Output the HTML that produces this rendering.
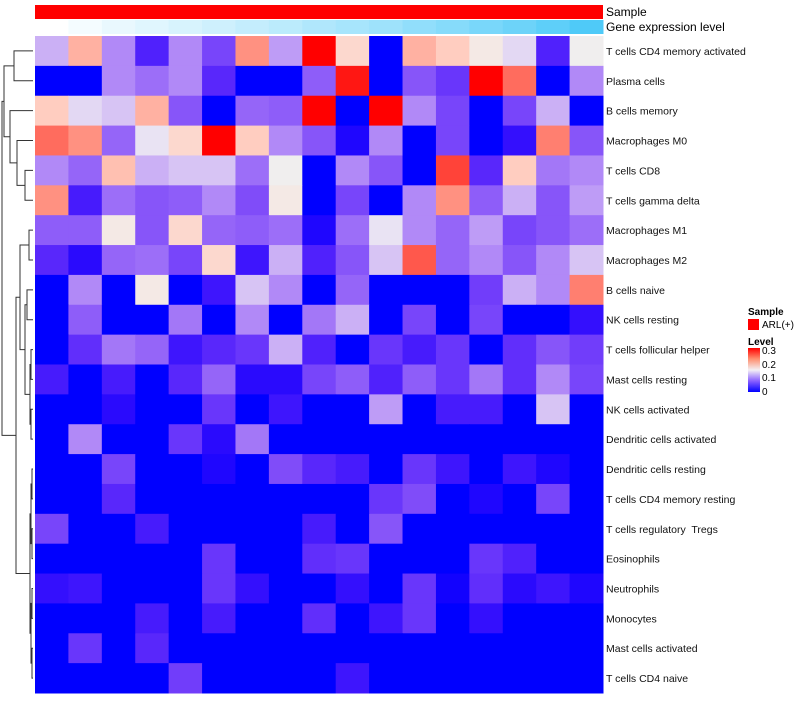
<!DOCTYPE html>
<html><head><meta charset="utf-8"><style>
body{margin:0;background:#fff;font-family:"Liberation Sans",sans-serif}
svg text{font-family:"Liberation Sans",sans-serif;white-space:pre}
</style></head><body>
<svg id="chart" width="800" height="700" viewBox="0 0 800 700">
<g id="dendro" stroke="#333" fill="none" stroke-width="1"></g>
<g id="anno"></g>
<g id="cells"></g>
<g id="labels"></g>
<g id="legend">
<text x="748" y="315" font-size="10" font-weight="bold">Sample</text>
<rect x="748" y="319" width="11" height="11" fill="#ff0000"/>
<text x="762" y="328" font-size="10">ARL(+)</text>
<text x="748" y="345" font-size="10" font-weight="bold">Level</text>
<defs><linearGradient id="lg" x1="0" y1="1" x2="0" y2="0"><stop offset="0" stop-color="#0000ff"/><stop offset="0.25" stop-color="#8a60ff"/><stop offset="0.5" stop-color="#f4f0f4"/><stop offset="0.75" stop-color="#ff9070"/><stop offset="1" stop-color="#ff0000"/></linearGradient></defs>
<rect x="748" y="348" width="12" height="44" fill="url(#lg)"/>
<text x="762" y="354" font-size="10">0.3</text>
<text x="762" y="368" font-size="10">0.2</text>
<text x="762" y="381" font-size="10">0.1</text>
<text x="762" y="395" font-size="10">0</text>
</g>
</svg>
<script>
const rowNames=["T cells CD4 memory activated","Plasma cells","B cells memory","Macrophages M0","T cells CD8","T cells gamma delta","Macrophages M1","Macrophages M2","B cells naive","NK cells resting","T cells follicular helper","Mast cells resting","NK cells activated","Dendritic cells activated","Dendritic cells resting","T cells CD4 memory resting","T cells regulatory  Tregs","Eosinophils","Neutrophils","Monocytes","Mast cells activated","T cells CD4 naive"];
const geneLevel=[0,0.06,0.12,0.17,0.22,0.27,0.32,0.37,0.43,0.48,0.53,0.6,0.66,0.73,0.8,0.88,0.96];
const r1=[.12,.21,.1,.035,.1,.06,.23,.11,.3,.18,0,.21,.19,.16,.14,.035,.15];
const r2=[0,0,.1,.085,.1,.04,0,0,.075,.29,0,.07,.05,.3,.25,0,.1];
const r3=[.19,.14,.13,.21,.07,0,.08,.075,.3,0,.3,.1,.06,0,.06,.12,0];
const r4=[.25,.23,.08,.145,.18,.3,.19,.1,.07,.01,.1,0,.06,0,.02,.24,.07];
const r5=[.1,.08,.2,.12,.13,.13,.085,.15,0,.1,.07,0,.27,.04,.19,.09,.1];
const r6=[.23,.03,.085,.07,.075,.1,.065,.16,0,.06,0,.1,.23,.075,.12,.07,.11];
const r7=[.075,.075,.16,.07,.18,.08,.075,.085,.01,.085,.145,.1,.08,.11,.06,.07,.085];
const r8=[.04,.015,.08,.085,.06,.18,.025,.12,.035,.07,.13,.26,.08,.1,.07,.1,.13];
const r9=[0,.1,0,.16,0,.025,.13,.1,0,.08,0,0,0,.055,.12,.1,.24];
const r10=[0,.075,0,0,.09,0,.1,0,.09,.12,0,.06,0,.06,0,0,.02];
const r11=[0,.045,.09,.08,.025,.04,.05,.12,.035,0,.05,.03,.05,0,.045,.07,.055];
const r12=[.03,0,.03,0,.04,.08,.015,.015,.06,.075,.035,.075,.05,.09,.045,.1,.06];
const r13=[0,0,.015,0,0,.05,0,.025,0,0,.11,0,.03,.03,0,.13,0];
const r14=[0,.1,0,0,.05,.015,.09,0,0,0,0,0,0,0,0,0,0];
const r15=[0,0,.06,0,0,.01,0,.065,.04,.03,0,.05,.025,0,.025,.01,0];
const r16=[0,0,.04,0,0,0,0,0,0,0,.05,.065,0,.01,0,.06,0];
const r17=[.06,0,0,.03,0,0,0,0,.03,0,.07,0,0,0,0,0,0];
const r18=[0,0,0,0,0,.05,0,0,.045,.05,0,0,0,.05,.035,0,0];
const r19=[.02,.025,0,0,0,.05,.02,0,0,.02,0,.05,.005,.045,.015,.025,.01];
const r20=[0,0,0,.03,0,.03,0,0,.045,0,.025,.05,0,.02,0,0,0];
const r21=[0,.05,0,.04,0,0,0,0,0,0,0,0,0,0,0,0,0];
const r22=[0,0,0,0,.055,0,0,0,0,.025,0,0,0,0,0,0,0];
const values=[r1,r2,r3,r4,r5,r6,r7,r8,r9,r10,r11,r12,r13,r14,r15,r16,r17,r18,r19,r20,r21,r22];
const NS="http://www.w3.org/2000/svg";
const X0=35,X1=603,Y0=36,Y1=693,nC=17,nR=22;
const cw=(X1-X0)/nC,rh=(Y1-Y0)/nR;
const xPos=c=>X0+c*cw, yPos=r=>Y0+r*rh;
function color(v){const t=Math.max(0,Math.min(1,v/0.3));let r,g,b;
 if(t<0.5){const u=t/0.5;r=240*Math.pow(u,0.75);g=238*Math.pow(u,1.35);b=255-12*u;}
 else{const u=(t-0.5)/0.5;r=240+15*Math.min(1,u*4);g=238*(1-Math.pow(u,1.5));b=238*(1-Math.pow(u,1.25));}
 return `rgb(${r|0},${g|0},${b|0})`;}
function mk(tag,attrs,parent){const e=document.createElementNS(NS,tag);for(const k in attrs)e.setAttribute(k,attrs[k]);parent.appendChild(e);return e;}
const cells=document.getElementById('cells');
values.forEach((row,r)=>row.forEach((v,c)=>{const e=mk('rect',{x:xPos(c),y:yPos(r),width:cw+0.5,height:rh+0.5,fill:color(v)},cells);

}));
const anno=document.getElementById('anno');
const s=mk('rect',{x:X0,y:5,width:X1-X0,height:14,fill:'#ff0000'},anno);


geneLevel.forEach((g,c)=>{const r=Math.round(255-(255-72)*g),gg=Math.round(255-(255-200)*g),b=Math.round(255-(255-248)*g);
const e=mk('rect',{x:xPos(c),y:20,width:cw+0.5,height:14,fill:`rgb(${r},${gg},${b})`},anno);

});
let t=mk('text',{x:606,y:16,'font-size':12,fill:'#000'},anno);t.textContent='Sample';


t=mk('text',{x:606,y:31,'font-size':12,fill:'#000'},anno);t.textContent='Gene expression level';


const labels=document.getElementById('labels');
rowNames.forEach((n,r)=>{const e=mk('text',{x:606,y:yPos(r)+rh/2+4,'font-size':10.5,fill:'#111'},labels);e.textContent=n;

});
const d=document.getElementById('dendro');
const yc=r=>yPos(r)+rh/2;
function node(x,ya,xa,yb,xb){mk('path',{d:`M${xa},${ya}H${x}V${yb}H${xb}`},d);return (ya+yb)/2;}
const n12=node(14,yc(0),33,yc(1),33);
const n56=node(25,yc(4),33,yc(5),33);
const n456=node(17,yc(3),33,n56,25);
const n3456=node(10,yc(2),33,n456,17);
const nTop=node(4,n12,14,n3456,10);
const n78=node(29,yc(6),33,yc(7),33);
const n910=node(27,yc(8),33,yc(9),33);
const n1112=node(31,yc(10),33,yc(11),33);
const n1314=node(31,yc(12),33,yc(13),33);
const nA=node(30,n1112,31,n1314,31);
const nB=node(25,n910,27,nA,30);
const nC_=node(20,n78,29,nB,25);
const n1516=node(32,yc(14),33,yc(15),33);
const n1718=node(32,yc(16),33,yc(17),33);
const n1920=node(32,yc(18),33,yc(19),33);
const n2122=node(32,yc(20),33,yc(21),33);
const nD=node(31,n1516,32,n1718,32);
const nE=node(31,n1920,32,n2122,32);
const nF=node(30,nD,31,nE,31);
const nG=node(16,nC_,20,nF,30);
node(2,nTop,4,nG,16);
</script>
</body></html>
